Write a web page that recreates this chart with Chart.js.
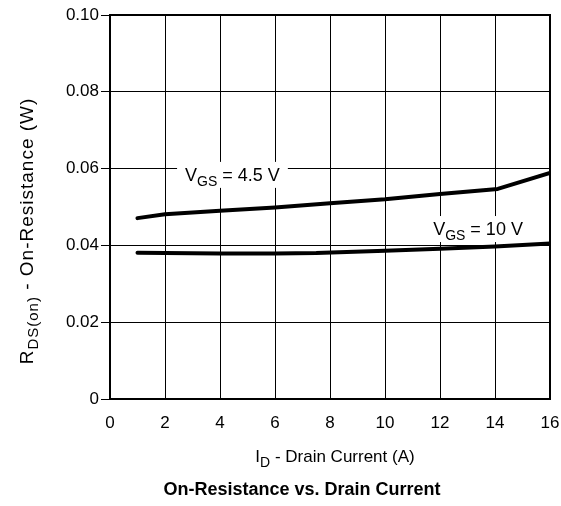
<!DOCTYPE html>
<html>
<head>
<meta charset="utf-8">
<script src="https://cdn.jsdelivr.net/npm/chart.js@4.4.0/dist/chart.umd.min.js"></script>
<style>
  html, body { margin: 0; padding: 0; background: #fff; }
  #wrap { width: 561px; height: 506px; }
</style>
</head>
<body>
<div id="wrap"><canvas id="chart" width="561" height="506"></canvas></div>
<script>
// Dati (I_D in A, R_DS(on) in ohm)
const X_TICKS = [0, 2, 4, 6, 8, 10, 12, 14, 16];
const Y_TICKS = [0, 0.02, 0.04, 0.06, 0.08, 0.10];

const ID_45 = [1, 2, 4, 6, 8, 10, 12, 14.1, 16];
const RDS_45 = [0.0471, 0.0481, 0.0490, 0.0499, 0.0510, 0.0520, 0.0534, 0.0547, 0.0589];

const ID_10 = [1, 2, 4, 6, 7.5, 10, 12, 14, 16];
const RDS_10 = [0.0381, 0.0380, 0.0379, 0.0379, 0.0380, 0.0386, 0.0391, 0.0397, 0.0405];

const FONT = "'Liberation Sans', Arial, Helvetica, sans-serif";

const toPoints = (xs, ys) => xs.map((x, i) => ({ x, y: ys[i] }));

// scrive testo con pedici: parts = [[testo, isSub], ...]
const drawParts = (ctx, parts, x, y, size, subSize, bold) => {
    let cx = x;
    parts.forEach(([txt, sub]) => {
        ctx.font = `${bold ? 'bold ' : ''}${sub ? subSize : size}px ${FONT}`;
        ctx.fillText(txt, cx, sub ? y + 5 : y);
        cx += ctx.measureText(txt).width;
    });
    return cx - x;
};
const partsWidth = (ctx, parts, size, subSize, bold) => {
    let w = 0;
    parts.forEach(([txt, sub]) => {
        ctx.font = `${bold ? 'bold ' : ''}${sub ? subSize : size}px ${FONT}`;
        w += ctx.measureText(txt).width;
    });
    return w;
};

const annotations = {
    id: 'annotations',
    beforeDatasetsDraw(chart) {
        const { ctx, scales: { x, y } } = chart;
        ctx.save();
        ctx.textBaseline = 'alphabetic';
        const labels = [
            { at: [2.73, 0.0568], parts: [['V', false], ['GS', true], [' = 4.5 V', false]] },
            { at: [11.75, 0.0427], parts: [['V', false], ['GS', true], [' = 10 V', false]] }
        ];
        labels.forEach(l => {
            const px = x.getPixelForValue(l.at[0]);
            const py = y.getPixelForValue(l.at[1]);
            const w = partsWidth(ctx, l.parts, 18, 14);
            ctx.fillStyle = '#fff';
            ctx.fillRect(px - 8, py - 19, w + 16, 26);
            ctx.fillStyle = '#000';
            drawParts(ctx, l.parts, px, py, 18, 14);
        });
        ctx.restore();
    },
    afterDraw(chart) {
        const { ctx, chartArea: a } = chart;
        ctx.save();
        // cornice
        ctx.strokeStyle = '#000';
        ctx.lineWidth = 2;
        ctx.strokeRect(a.left, a.top, a.right - a.left, a.bottom - a.top);

        ctx.fillStyle = '#000';
        ctx.textBaseline = 'alphabetic';
        // titolo asse x
        const xt = [['I', false], ['D', true], [' - Drain Current (A)', false]];
        const wx = partsWidth(ctx, xt, 17, 14);
        drawParts(ctx, xt, 335 - wx / 2, 462, 17, 14);
        // titolo grafico
        const tt = [['On-Resistance vs. Drain Current', false]];
        const wt = partsWidth(ctx, tt, 18, 14, true);
        drawParts(ctx, tt, 302 - wt / 2, 495, 18, 14, true);
        // titolo asse y (ruotato)
        ctx.letterSpacing = '1px';
        const yt = [['R', false], ['DS(on)', true], [' - On-Resistance (W)', false]];
        const wy = partsWidth(ctx, yt, 19, 15);
        ctx.translate(33, 231);
        ctx.rotate(-Math.PI / 2);
        drawParts(ctx, yt, -wy / 2, 0, 19, 15);
        ctx.restore();
    }
};

new Chart(document.getElementById('chart'), {
    type: 'line',
    data: {
        datasets: [
            { data: toPoints(ID_45, RDS_45) },
            { data: toPoints(ID_10, RDS_10) }
        ]
    },
    options: {
        responsive: false,
        animation: false,
        layout: { padding: { left: 0, top: 15, right: 11, bottom: 0 } },
        elements: {
            line: { borderColor: '#000', borderWidth: 4, borderCapStyle: 'round', borderJoinStyle: 'round', tension: 0 },
            point: { radius: 0 }
        },
        plugins: { legend: { display: false }, tooltip: { enabled: false } },
        scales: {
            x: {
                type: 'linear', min: 0, max: 16,
                afterFit: s => { s.height = 107; s.paddingLeft = 0; s.paddingRight = 0; },
                afterBuildTicks: s => { s.ticks = X_TICKS.map(v => ({ value: v })); },
                ticks: { color: '#000', font: { family: FONT, size: 17 }, padding: 14, maxRotation: 0 },
                grid: { color: '#000', lineWidth: 1, drawTicks: false },
                border: { display: false }
            },
            y: {
                type: 'linear', min: 0, max: 0.1,
                afterFit: s => { s.width = 110; s.paddingTop = 0; s.paddingBottom = 0; },
                afterBuildTicks: s => { s.ticks = Y_TICKS.map(v => ({ value: v })); },
                ticks: {
                    color: '#000', font: { family: FONT, size: 17 }, padding: 2,
                    callback: v => v === 0 ? '0' : v.toFixed(2)
                },
                grid: { color: '#000', lineWidth: 1, tickLength: 9 },
                border: { display: false }
            }
        }
    },
    plugins: [annotations]
});
</script>
</body>
</html>
